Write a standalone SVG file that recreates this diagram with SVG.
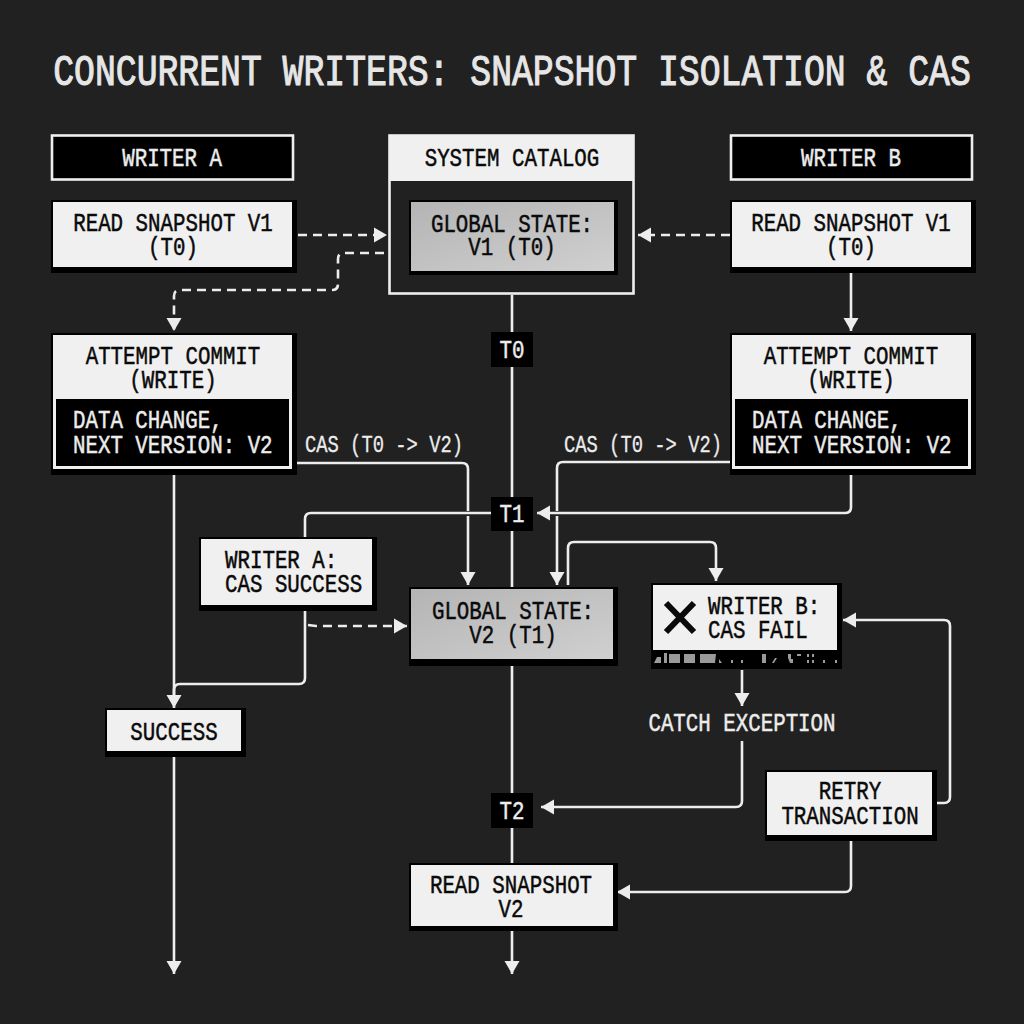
<svg xmlns="http://www.w3.org/2000/svg" width="1024" height="1024" viewBox="0 0 1024 1024">
<style>
text{font-family:"Liberation Mono","DejaVu Sans Mono",monospace;font-size:26px;text-anchor:middle;fill:#0a0a0a;font-weight:400;stroke:#0a0a0a;stroke-width:.5px;transform-box:fill-box;transform-origin:center;transform:scaleX(.8)}
text.s{text-anchor:start;transform-origin:left center}
text.w{fill:#ececec;stroke:#ececec}
text.c{font-size:24px;transform:scaleX(.785);stroke-width:.3px}
text.ti{font-size:44px;fill:#e6e6e6;stroke:#e6e6e6;stroke-width:1.1px;transform:scaleX(.79)}
.sh{fill:#000}.wb{fill:#f0f0f0}.gb{fill:url(#g)}.k{fill:#000}
.hd{fill:#000;stroke:#efefef;stroke-width:2.6}
.ln{fill:none;stroke:#ededed;stroke-width:2.6}
.da{stroke-dasharray:9 6}
.ar{marker-end:url(#a)}
.gl{fill:#9a9a9a}
</style>
<defs>
<linearGradient id="g" x1="0" y1="0" x2="1" y2="1"><stop offset="0" stop-color="#b4b4b4"/><stop offset="1" stop-color="#d0d0d0"/></linearGradient>
<marker id="a" markerUnits="userSpaceOnUse" markerWidth="16" markerHeight="16" refX="14" refY="8" orient="auto"><path d="M1 0.5L14 8L1 15.5Z" fill="#ededed"/></marker>
</defs>
<rect width="1024" height="1024" fill="#212121"/>
<g id="title"><text class="ti" x="512" y="85">CONCURRENT WRITERS: SNAPSHOT ISOLATION &amp; CAS</text></g>
<g id="connectors">
<path class="ln da ar" d="M298 235H387"/>
<path class="ln da ar" d="M384 253H344Q338 253 338 259V284Q338 290 332 290H180Q174 290 174 296V331"/>
<path class="ln da ar" d="M730 235H638"/>
<path class="ln ar" d="M851 272V331"/>
<path class="ln" d="M512 295V332M512 367V497M512 531V587M512 665V793M512 828V863"/>
<path class="ln ar" d="M512 930V974"/>
<path class="ln ar" d="M174 473V708"/>
<path class="ln ar" d="M174 756V974"/>
<path class="ln" d="M297 463H462Q468 463 468 469V511"/>
<path class="ln ar" d="M468 516V585"/>
<path class="ln" d="M730 462H563Q557 462 557 468V511"/>
<path class="ln ar" d="M557 516V585"/>
<path class="ln ar" d="M851 473V507Q851 513 845 513H537"/>
<path class="ln" d="M491 513H311Q305 513 305 519V537"/>
<path class="ln" d="M305 610V678Q305 684 299 684H180Q174 684 174 690V700"/>
<path class="ln da ar" d="M308 625L316 626H407"/>
<path class="ln ar" d="M568 585V548Q568 542 574 542H710Q716 542 716 548V581"/>
<path class="ln ar" d="M742 670V706"/>
<path class="ln ar" d="M742 741V801Q742 807 736 807H541"/>
<path class="ln ar" d="M937 803H944Q950 803 950 797V626Q950 620 944 620H843"/>
<path class="ln ar" d="M851 840V886Q851 892 845 892H617"/>
</g>
<g id="writer-a-header"><rect class="hd" x="52" y="135.500" width="241" height="44"/><text class="w" x="172" y="166">WRITER A</text></g>
<g id="writer-b-header"><rect class="hd" x="731" y="135.500" width="241" height="44"/><text class="w" x="851" y="166">WRITER B</text></g>
<g id="system-catalog">
<rect x="389.500" y="135.500" width="244" height="158" fill="#212121" stroke="#efefef" stroke-width="2.600"/>
<rect class="wb" x="389" y="135" width="245" height="46"/>
<text x="512" y="166">SYSTEM CATALOG</text>
</g>
<g id="global-v1"><rect class="sh" x="409" y="200" width="209" height="75"/><rect class="gb" x="411" y="202" width="203" height="69"/><text x="512" y="232">GLOBAL STATE:</text><text x="512" y="255">V1 (T0)</text></g>
<g id="read-a"><rect class="sh" x="51" y="200" width="246" height="73"/><rect class="wb" x="53" y="202" width="239" height="65"/><text x="173" y="231">READ SNAPSHOT V1</text><text x="173" y="255">(T0)</text></g>
<g id="read-b"><rect class="sh" x="730" y="200" width="246" height="73"/><rect class="wb" x="732" y="202" width="239" height="65"/><text x="851" y="231">READ SNAPSHOT V1</text><text x="851" y="255">(T0)</text></g>
<g id="attempt-a"><rect class="sh" x="51" y="333" width="246" height="142"/><rect class="wb" x="53" y="335" width="239" height="134"/><rect class="k" x="56" y="399" width="233" height="67"/><text x="173" y="364">ATTEMPT COMMIT</text><text x="173" y="388">(WRITE)</text><text class="w s" x="73" y="428">DATA CHANGE,</text><text class="w s" x="73" y="453">NEXT VERSION: V2</text></g>
<g id="attempt-b"><rect class="sh" x="730" y="333" width="246" height="142"/><rect class="wb" x="732" y="335" width="239" height="134"/><rect class="k" x="735" y="399" width="233" height="67"/><text x="851" y="364">ATTEMPT COMMIT</text><text x="851" y="388">(WRITE)</text><text class="w s" x="752" y="428">DATA CHANGE,</text><text class="w s" x="752" y="453">NEXT VERSION: V2</text></g>
<g id="cas-a-label"><text class="w c" x="384" y="452">CAS (T0 -&gt; V2)</text></g>
<g id="cas-b-label"><text class="w c" x="643" y="452">CAS (T0 -&gt; V2)</text></g>
<g id="t0"><rect class="k" x="491" y="332" width="42" height="35"/><text class="w" x="512" y="358">T0</text></g>
<g id="t1"><rect class="k" x="491" y="497" width="42" height="34"/><text class="w" x="512" y="522">T1</text></g>
<g id="t2"><rect class="k" x="491" y="793" width="42" height="35"/><text class="w" x="512" y="819">T2</text></g>
<g id="writer-a-success"><rect class="sh" x="199" y="537" width="178" height="74"/><rect class="wb" x="201" y="539" width="171" height="66"/><text class="s" x="225" y="568">WRITER A:</text><text class="s" x="225" y="592">CAS SUCCESS</text></g>
<g id="global-v2"><rect class="sh" x="409" y="587" width="209" height="79"/><rect class="gb" x="411" y="589" width="202" height="70"/><text x="513" y="619">GLOBAL STATE:</text><text x="513" y="643">V2 (T1)</text></g>
<g id="writer-b-fail"><rect class="sh" x="651" y="583" width="191" height="86"/><rect class="wb" x="653" y="585" width="184" height="65"/>
<path d="M666 603L694 632M694 603L666 632" fill="none" stroke="#0a0a0a" stroke-width="6"/>
<text class="s" x="708" y="614">WRITER B:</text><text class="s" x="708" y="638">CAS FAIL</text>
<path class="gl" d="M657 657h4v6h-7zM664 653h3v10h-3zM669 654h11v9h-11zM684 654h11v9h-11zM700 654h16l-1 9h-15zM719 659l3 4h-3zM731 660h2v3h-2zM741 660h2v3h-2zM762 654h4v9h-4zM775 658h2l-3 5h-2zM788 654h3v5h2v4h-3l-2-5zM797 654h4v2h-4zM807 654h2v3h-2zM812 654h2v3h-2zM807 660h2v3h-2zM812 660h2v3h-2zM823 660h2v3h-2zM835 660h2v3h-2z"/>
</g>
<g id="catch-exception"><text class="w" x="742" y="731">CATCH EXCEPTION</text></g>
<g id="success"><rect class="sh" x="105" y="708" width="141" height="49"/><rect class="wb" x="107" y="710" width="134" height="41"/><text x="174" y="740">SUCCESS</text></g>
<g id="retry"><rect class="sh" x="765" y="770" width="172" height="71"/><rect class="wb" x="767" y="772" width="165" height="63"/><text x="850" y="799">RETRY</text><text x="850" y="824">TRANSACTION</text></g>
<g id="read-v2"><rect class="sh" x="409" y="863" width="209" height="68"/><rect class="wb" x="411" y="865" width="202" height="61"/><text x="511" y="893">READ SNAPSHOT</text><text x="511" y="917">V2</text></g>
</svg>
